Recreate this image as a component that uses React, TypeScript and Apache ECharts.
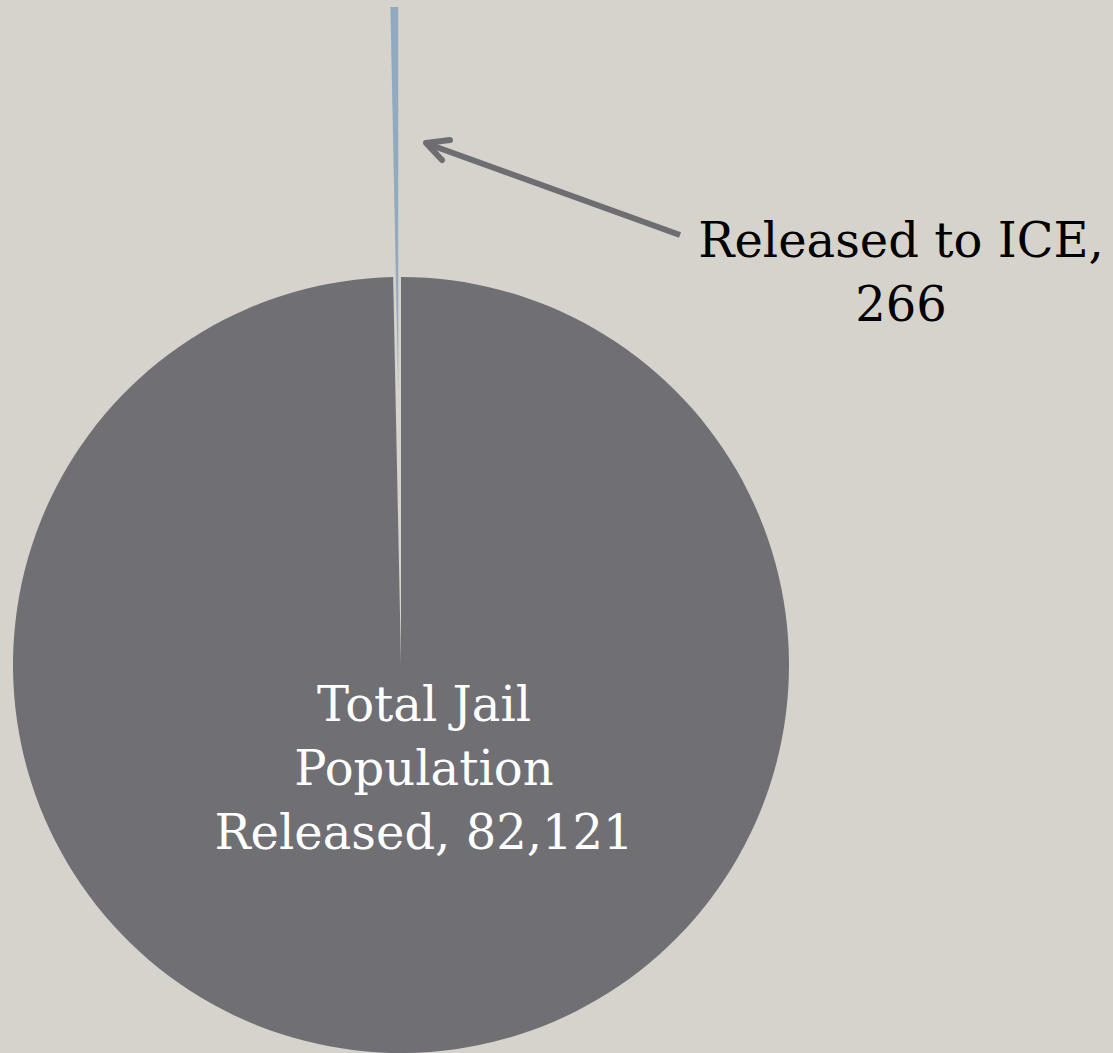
import React, { useEffect, useRef } from "react";
import * as echarts from "echarts";

const categories = ["Total Jail Population Released", "Released to ICE"];
const labelNames = ["Total Jail\nPopulation\nReleased", "Released to ICE"];
const values = [82121, 266];

const fmt = (v: number) => v.toLocaleString("en-US");

export default function App() {
  const ref = useRef<HTMLDivElement>(null);
  useEffect(() => {
    document.body.style.margin = "0";
    const chart = echarts.init(ref.current!, null, { renderer: "svg" });
    const font = "'DejaVu Serif', 'Liberation Serif', serif";
    chart.setOption({
      animation: false,
      backgroundColor: "#d6d3cc",
      series: [
        {
          type: "pie",
          center: [401, 665],
          radius: [0, 388],
          startAngle: 90,
          clockwise: true,
          selectedMode: "single",
          selectedOffset: 270,
          silent: true,
          label: { show: false },
          labelLine: { show: false },
          emphasis: { disabled: true },
          data: categories.map((c, i) => ({
            name: c,
            value: values[i],
            selected: i === 1,
            itemStyle: { color: i === 0 ? "#706f74" : "#92aabd" },
          })),
        },
      ],
      graphic: [
        {
          type: "line",
          z: 100,
          shape: { x1: 680, y1: 235, x2: 428, y2: 144 },
          style: { stroke: "#6e6d72", lineWidth: 6, lineCap: "butt" },
        },
        {
          type: "polyline",
          z: 100,
          shape: { points: [[450, 140], [426, 143], [442, 160]] },
          style: { stroke: "#6e6d72", lineWidth: 6, lineCap: "round", lineJoin: "round", fill: "none" },
        },
        {
          type: "text",
          z: 100,
          x: 901,
          y: 272,
          style: {
            text: labelNames[1] + ",\n" + fmt(values[1]),
            font: `48px ${font}`,
            fill: "#000000",
            textAlign: "center",
            textVerticalAlign: "middle",
            lineHeight: 64,
          },
        },
        {
          type: "text",
          z: 100,
          x: 424,
          y: 768,
          style: {
            text: labelNames[0] + ", " + fmt(values[0]),
            font: `48px ${font}`,
            fill: "#ffffff",
            textAlign: "center",
            textVerticalAlign: "middle",
            lineHeight: 64,
          },
        },
      ],
    });
    return () => chart.dispose();
  }, []);
  return <div ref={ref} style={{ width: 1113, height: 1053 }} />;
}
